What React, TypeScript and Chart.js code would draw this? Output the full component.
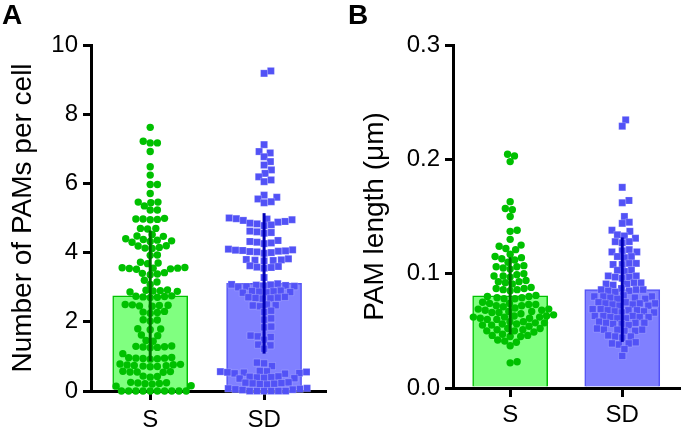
import React, { useEffect, useRef } from "react";
import { Chart, registerables } from "chart.js";
Chart.register(...registerables);

const groups = ["S", "SD"];

// Panel A: Number of PAMs per cell
const countS = [7.62, 7.22, 7.17, 7.17, 6.92, 6.48, 6.24, 5.97, 5.97, 5.71, 5.46, 5.46, 5.44, 5.35, 5.23, 5.23, 4.99, 4.97, 4.97, 4.96, 4.95, 4.7, 4.7, 4.68, 4.52, 4.48, 4.47, 4.4, 4.38, 4.36, 4.34, 4.32, 4.3, 4.2, 4.19, 4.15, 4.13, 4.12, 3.93, 3.92, 3.72, 3.7, 3.68, 3.57, 3.56, 3.55, 3.55, 3.54, 3.53, 3.52, 3.42, 3.4, 3.38, 3.36, 3.2, 3.15, 3.08, 2.92, 2.91, 2.9, 2.89, 2.88, 2.86, 2.75, 2.74, 2.73, 2.72, 2.71, 2.7, 2.5, 2.49, 2.48, 2.47, 2.46, 2.45, 2.3, 2.28, 2.27, 2.25, 2.06, 2.05, 2.02, 1.8, 1.79, 1.77, 1.62, 1.6, 1.46, 1.44, 1.3, 1.29, 1.28, 1.27, 1.26, 1.25, 1.08, 0.97, 0.96, 0.95, 0.95, 0.94, 0.93, 0.92, 0.78, 0.77, 0.76, 0.75, 0.74, 0.73, 0.72, 0.71, 0.7, 0.57, 0.56, 0.55, 0.55, 0.54, 0.43, 0.42, 0.4, 0.25, 0.24, 0.23, 0.22, 0.21, 0.2, 0.15, 0.14, 0, 0, 0, 0, 0, 0, 0, 0, 0, 0];
const countSD = [9.25, 9.18, 7.12, 6.92, 6.88, 6.77, 6.63, 6.53, 6.39, 6.29, 6.19, 6.1, 6.05, 5.66, 5.6, 5.55, 5.47, 5.44, 5.0, 4.98, 4.97, 4.95, 4.93, 4.9, 4.88, 4.85, 4.83, 4.8, 4.78, 4.62, 4.6, 4.58, 4.56, 4.35, 4.32, 4.3, 4.28, 4.26, 4.1, 4.08, 4.07, 4.06, 4.05, 4.04, 4.03, 4.02, 4.0, 3.98, 3.82, 3.8, 3.79, 3.78, 3.77, 3.76, 3.62, 3.6, 3.58, 3.57, 3.55, 3.28, 3.1, 3.08, 3.07, 3.06, 3.05, 3.04, 3.03, 3.02, 3.0, 2.9, 2.89, 2.88, 2.87, 2.86, 2.85, 2.84, 2.72, 2.71, 2.7, 2.69, 2.68, 2.67, 2.5, 2.48, 2.47, 2.45, 2.32, 2.28, 2.1, 2.06, 1.86, 1.84, 1.6, 1.58, 1.56, 1.48, 1.34, 1.32, 1.22, 0.82, 0.8, 0.72, 0.58, 0.57, 0.56, 0.55, 0.54, 0.53, 0.52, 0.51, 0.5, 0.42, 0.41, 0.4, 0.39, 0.38, 0.37, 0.36, 0.25, 0.24, 0.23, 0.22, 0.21, 0.2, 0.19, 0.08, 0.07, 0.06, 0.05, 0.04, 0.03, 0, 0, 0, 0, 0, 0];
const countMeans = [2.75, 3.11];
const countSDs = [1.89, 2.03];
const countTicks = [0, 2, 4, 6, 8, 10];

// Panel B: PAM length (µm)
const lenS = [0.2045, 0.203, 0.198, 0.163, 0.157, 0.156, 0.150, 0.138, 0.137, 0.130, 0.125, 0.124, 0.122, 0.121, 0.117, 0.115, 0.114, 0.113, 0.112, 0.11, 0.107, 0.106, 0.106, 0.105, 0.104, 0.1, 0.099, 0.098, 0.098, 0.097, 0.094, 0.093, 0.093, 0.092, 0.091, 0.088, 0.087, 0.087, 0.086, 0.086, 0.085, 0.081, 0.08, 0.08, 0.079, 0.079, 0.078, 0.078, 0.075, 0.074, 0.074, 0.073, 0.073, 0.072, 0.072, 0.071, 0.07, 0.069, 0.069, 0.068, 0.068, 0.067, 0.067, 0.066, 0.066, 0.065, 0.064, 0.063, 0.063, 0.062, 0.062, 0.062, 0.061, 0.061, 0.06, 0.06, 0.058, 0.058, 0.057, 0.057, 0.056, 0.056, 0.055, 0.055, 0.054, 0.052, 0.052, 0.051, 0.051, 0.05, 0.05, 0.049, 0.047, 0.046, 0.046, 0.045, 0.045, 0.042, 0.041, 0.04, 0.037, 0.023, 0.022];
const lenSD = [0.2345, 0.229, 0.1755, 0.164, 0.162, 0.150, 0.145, 0.144, 0.138, 0.137, 0.134, 0.133, 0.131, 0.128, 0.128, 0.127, 0.121, 0.12, 0.119, 0.119, 0.115, 0.115, 0.114, 0.109, 0.109, 0.108, 0.108, 0.103, 0.103, 0.102, 0.098, 0.098, 0.097, 0.097, 0.096, 0.092, 0.092, 0.091, 0.091, 0.09, 0.087, 0.086, 0.086, 0.086, 0.085, 0.085, 0.084, 0.081, 0.08, 0.08, 0.08, 0.079, 0.079, 0.078, 0.078, 0.075, 0.075, 0.074, 0.074, 0.074, 0.073, 0.073, 0.072, 0.072, 0.069, 0.069, 0.068, 0.068, 0.068, 0.067, 0.067, 0.066, 0.066, 0.063, 0.063, 0.063, 0.062, 0.062, 0.062, 0.061, 0.061, 0.058, 0.057, 0.057, 0.057, 0.056, 0.056, 0.055, 0.052, 0.051, 0.051, 0.051, 0.05, 0.05, 0.046, 0.045, 0.045, 0.044, 0.04, 0.039, 0.039, 0.038, 0.034, 0.028];
const lenMeans = [0.0806, 0.0860];
const lenSDs = [0.0338, 0.0457];
const lenTicks = [0, 0.1, 0.2, 0.3];

const FONT = "'Liberation Sans', Arial, Helvetica, sans-serif";
const GREEN = "#00C000";
const GREEN_FILL = "#80FF80";
const GREEN_ERR = "#007000";
const BLUE = "#5252F6";
const BLUE_FILL = "#8080FF";
const BLUE_ERR = "#0000B4";

// simple beeswarm layout: returns {x,y} with x offset (in category units) around center
function swarm(values: number[], center: number, pxPerY: number, pxPerX: number, diam: number) {
  const order = values.map((_, i) => i).sort((a, b) => values[a] - values[b]);
  const placed: { x: number; y: number }[] = [];
  const out: { x: number; y: number }[] = new Array(values.length);
  for (const i of order) {
    const y = values[i] * pxPerY;
    const cands = [0];
    for (const p of placed) {
      const dy = Math.abs(p.y - y);
      if (dy < diam) {
        const dx = Math.sqrt(diam * diam - dy * dy);
        cands.push(p.x + dx, p.x - dx);
      }
    }
    cands.sort((a, b) => Math.abs(a) - Math.abs(b));
    let best = 0;
    for (const c of cands) {
      if (placed.every((p) => (p.x - c) ** 2 + (p.y - y) ** 2 >= diam * diam - 0.01)) {
        best = c;
        break;
      }
    }
    placed.push({ x: best, y });
    out[i] = { x: center + best / pxPerX, y: values[i] };
  }
  return out;
}

type PanelCfg = {
  a: number[];
  b: number[];
  means: number[];
  sds: number[];
  ticks: number[];
  yMax: number;
  pxPerY: number;
  title: string;
  yWidth: number;
  xHeight: number;
  padRight: number;
  titlePad: number;
  xLabelPad: number;
  xMin: number;
  xMax: number;
  fmt: (v: number) => string;
};

function makeChart(canvas: HTMLCanvasElement, c: PanelCfg) {
  const pxPerX = 114;
  const ptsA = swarm(c.a, 0, c.pxPerY, pxPerX, 7.2);
  const ptsB = swarm(c.b, 1, c.pxPerY, pxPerX, 7.2);
  return new Chart(canvas, {
    type: "scatter",
    data: {
      datasets: [
        {
          type: "line",
          data: [{ x: 0, y: c.means[0] - c.sds[0] }, { x: 0, y: c.means[0] + c.sds[0] }],
          borderColor: GREEN_ERR,
          borderWidth: 3,
          pointRadius: 0,
          order: 0,
          clip: false,
        } as any,
        {
          type: "line",
          data: [{ x: 1, y: c.means[1] - c.sds[1] }, { x: 1, y: c.means[1] + c.sds[1] }],
          borderColor: BLUE_ERR,
          borderWidth: 3,
          pointRadius: 0,
          order: 0,
          clip: false,
        } as any,
        {
          type: "scatter",
          data: ptsA,
          pointStyle: "circle",
          pointRadius: 3.7,
          backgroundColor: GREEN,
          borderWidth: 0,
          order: 1,
          clip: false,
        } as any,
        {
          type: "scatter",
          data: ptsB,
          pointStyle: "rect",
          pointRadius: 5,
          backgroundColor: BLUE,
          borderColor: "rgba(255,255,255,0.35)",
          borderWidth: 0.6,
          order: 1,
          clip: false,
        } as any,
        {
          type: "bar",
          data: [{ x: 0, y: c.means[0] }, { x: 1, y: c.means[1] }],
          backgroundColor: [GREEN_FILL, BLUE_FILL],
          borderColor: [GREEN, BLUE],
          borderWidth: 1.5,
          barThickness: 75,
          order: 2,
          clip: false,
        } as any,
      ],
    },
    options: {
      responsive: false,
      animation: false,
      devicePixelRatio: 1,
      layout: { padding: { left: 0, top: 45, right: c.padRight, bottom: 0 } },
      plugins: { legend: { display: false }, tooltip: { enabled: false } },
      scales: {
        x: {
          type: "linear",
          offset: false,
          min: c.xMin,
          max: c.xMax,
          afterBuildTicks: (s: any) => {
            s.ticks = [{ value: 0 }, { value: 1 }];
          },
          afterFit: (s: any) => {
            s.height = c.xHeight;
          },
          ticks: {
            callback: (v: any) => groups[Math.round(Number(v))] ?? "",
            color: "#000",
            font: { family: FONT, size: 24 },
            padding: c.xLabelPad,
            maxRotation: 0,
            autoSkip: false,
          },
          grid: { offset: false, drawOnChartArea: false, drawTicks: true, tickLength: 9, color: "#000", lineWidth: 3 },
          border: { display: true, color: "#000", width: 3 },
        },
        y: {
          type: "linear",
          min: 0,
          max: c.yMax,
          afterBuildTicks: (s: any) => {
            s.ticks = c.ticks.map((v) => ({ value: v }));
          },
          afterFit: (s: any) => {
            s.width = c.yWidth;
          },
          ticks: {
            callback: (v: any) => c.fmt(Number(v)),
            color: "#000",
            font: { family: FONT, size: 24 },
            padding: 5,
            autoSkip: false,
          },
          grid: { drawOnChartArea: false, drawTicks: true, tickLength: 8, color: "#000", lineWidth: 3 },
          border: { display: true, color: "#000", width: 3 },
          title: {
            display: true,
            text: c.title,
            color: "#000",
            font: { family: FONT, size: 28 },
            padding: { top: c.titlePad, bottom: 0 },
          },
        },
      },
    },
  } as any);
}

export default function App() {
  const refA = useRef<HTMLCanvasElement>(null);
  const refB = useRef<HTMLCanvasElement>(null);

  useEffect(() => {
    const chA = makeChart(refA.current!, {
      a: countS,
      b: countSD,
      means: countMeans,
      sds: countSDs,
      ticks: countTicks,
      yMax: 10,
      pxPerY: 34.6,
      title: "Number of PAMs per cell",
      yWidth: 91,
      xHeight: 40,
      padRight: 17,
      titlePad: 6.5,
      xLabelPad: 6,
      xMin: -0.52,
      xMax: 1.535,
      fmt: (v) => String(Math.round(v)),
    });
    const chB = makeChart(refB.current!, {
      a: lenS,
      b: lenSD,
      means: lenMeans,
      sds: lenSDs,
      ticks: lenTicks,
      yMax: 0.3,
      pxPerY: 1143,
      title: "PAM length (\u03bcm)",
      yWidth: 111,
      xHeight: 43,
      padRight: 2,
      titlePad: 16.5,
      xLabelPad: 4,
      xMin: -0.51,
      xMax: 1.51,
      fmt: (v) => v.toFixed(1),
    });
    return () => {
      chA.destroy();
      chB.destroy();
    };
  }, []);

  const letter: React.CSSProperties = {
    position: "absolute",
    top: 1,
    fontFamily: FONT,
    fontWeight: "bold",
    fontSize: 28,
    lineHeight: "28px",
    color: "#000",
  };

  return (
    <div style={{ position: "absolute", left: 0, top: 0, width: 685, height: 431, background: "#fff", overflow: "hidden" }}>
      <div style={{ position: "absolute", left: 0, top: 0, width: 342, height: 431 }}>
        <canvas ref={refA} width={342} height={431} />
      </div>
      <div style={{ position: "absolute", left: 342, top: 0, width: 343, height: 431 }}>
        <canvas ref={refB} width={343} height={431} />
      </div>
      <div style={{ ...letter, left: 2 }}>A</div>
      <div style={{ ...letter, left: 348 }}>B</div>
    </div>
  );
}
